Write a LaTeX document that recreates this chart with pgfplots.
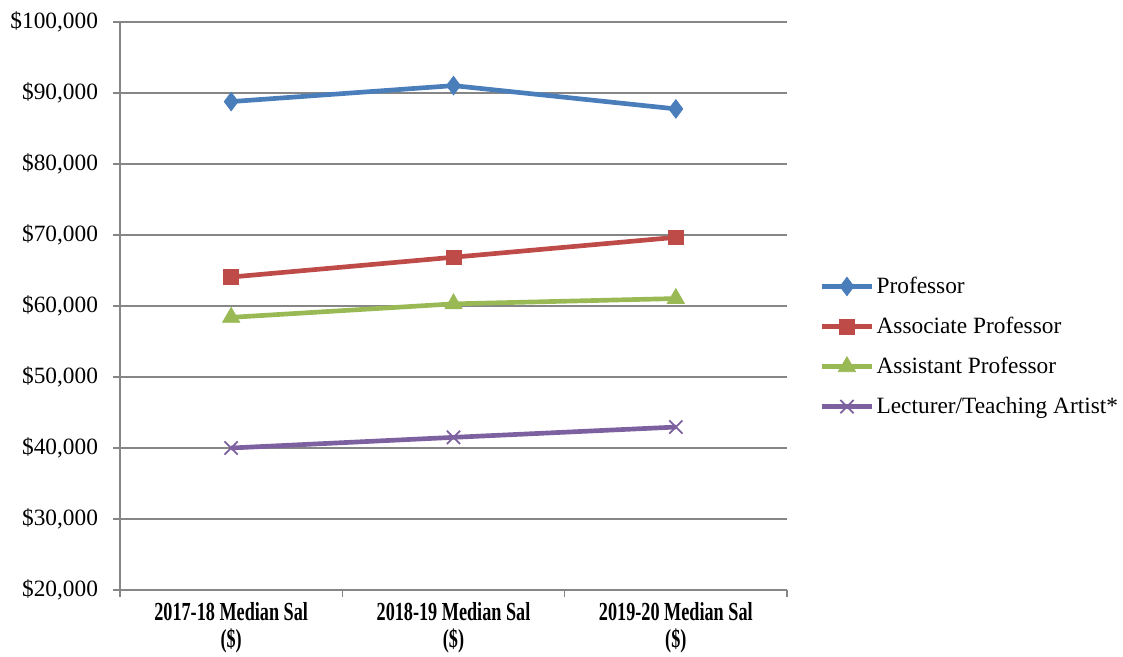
\documentclass[border=0pt]{standalone}
\usepackage{pgfplots}
\pgfplotsset{compat=1.18}
\usepackage{fontspec}
\setmainfont{Liberation Serif}
\newfontfamily\xlab[FakeStretch=0.7]{Liberation Serif}
\definecolor{cProf}{HTML}{4A7EBB}
\definecolor{cAssoc}{HTML}{BE4B48}
\definecolor{cAsst}{HTML}{98B954}
\definecolor{cLect}{HTML}{7D60A0}
\definecolor{gridgray}{HTML}{868686}
\begin{document}
\begin{tikzpicture}
\path[use as bounding box] (-90pt,-49.5pt) rectangle (752.25pt,442.5pt);
\begin{axis}[
  at={(0,0)}, anchor=south west,
  scale only axis, width=500.25pt, height=426pt,
  xmin=-0.5, xmax=2.5, ymin=20000, ymax=100000,
  scaled y ticks=false,
  axis lines*=left,
  axis line style={-, draw=gridgray, line width=1pt},
  xtick={0,1,2},
  xticklabels={{2017-18 Median Sal\\(\$)},{2018-19 Median Sal\\(\$)},{2019-20 Median Sal\\(\$)}},
  minor xtick={-0.5,0.5,1.5,2.5},
  xtick style={draw=none},
  minor x tick style={draw=gridgray, line width=1pt},
  ytick={20000,30000,40000,50000,60000,70000,80000,90000,100000},
  yticklabels={{\$20,000},{\$30,000},{\$40,000},{\$50,000},{\$60,000},{\$70,000},{\$80,000},{\$90,000},{\$100,000}},
  ytick style={draw=gridgray, line width=1pt},
  tick align=outside,
  major tick length=5pt, minor tick length=5pt,
  ymajorgrids,
  major grid style={draw=gridgray, line width=1pt},
  yticklabel style={font=\fontsize{17.5}{20}\selectfont, xshift=-8pt},
  xticklabel style={align=center, yshift=-1pt, font=\xlab\bfseries\fontsize{19.5}{20}\selectfont},
  legend style={at={(1.049,0.4287)}, anchor=west, draw=none, fill=none,
    font=\fontsize{17.5}{20}\selectfont, row sep=12.25pt, inner sep=0pt},
  legend cell align=left,
  legend image code/.code={\draw[mark repeat=2,mark phase=2] plot coordinates {(0pt,0pt)(18.5pt,0pt)(37pt,0pt)};},
]
\addplot[color=cProf, line width=3.5pt, mark=diamond*, mark size=7pt, mark options={line width=0.5pt}]
  coordinates {(0,88790)(1,91040)(2,87760)};
\addlegendentry{Professor}
\addplot[color=cAssoc, line width=3.5pt, mark=square*, mark size=5.5pt, mark options={line width=0.5pt}]
  coordinates {(0,64080)(1,66870)(2,69670)};
\addlegendentry{Associate Professor}
\addplot[color=cAsst, line width=3.5pt, mark=triangle*, mark size=7.5pt, mark options={line width=0.5pt}]
  coordinates {(0,58400)(1,60300)(2,61050)};
\addlegendentry{Assistant Professor}
\addplot[color=cLect, line width=3.5pt, mark=x, mark size=7pt, mark options={line width=1.3pt}]
  coordinates {(0,40000)(1,41500)(2,42950)};
\addlegendentry{Lecturer/Teaching Artist*}
\end{axis}
\end{tikzpicture}
\end{document}
